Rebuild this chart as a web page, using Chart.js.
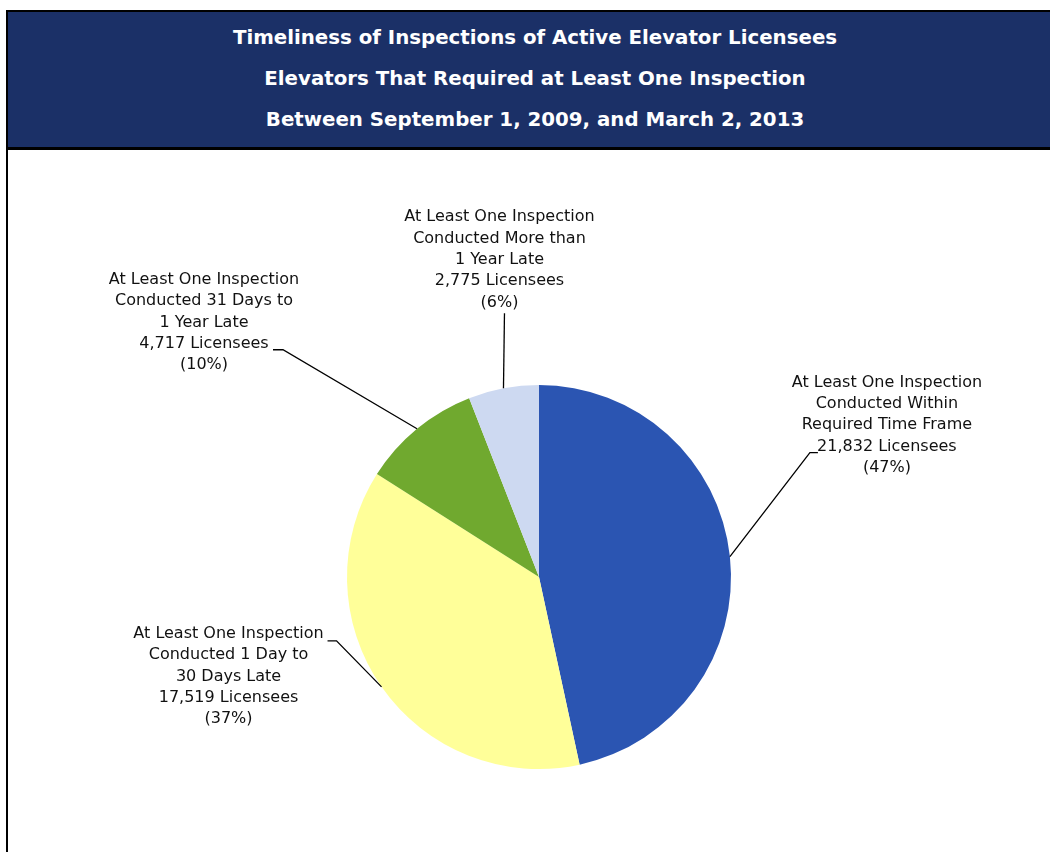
<!DOCTYPE html>
<html>
<head>
<meta charset="utf-8">
<script src="https://cdn.jsdelivr.net/npm/chart.js@4"></script>
<style>
    body { margin: 0; background: #fff; }
    #page { position: relative; width: 1050px; height: 852px; overflow: hidden; }
    #frame { position: absolute; left: 6px; top: 10px; width: 2px; height: 842px; background: #000; }
    #header {
        position: absolute; left: 6px; top: 10px; width: 1034px; height: 130px;
        border-top: 2px solid #000; border-left: 2px solid #000; border-bottom: 3px solid #000;
        background: #1b3067; color: #fff; text-align: center;
        font-family: "DejaVu Sans", sans-serif; font-weight: bold; font-size: 19.8px;
        line-height: 41px; padding-top: 5px; padding-left: 10px; box-sizing: content-box;
    }
    canvas { position: absolute; left: 0; top: 0; }
</style>
</head>
<body>
<div id="page">
    <canvas id="graficoPie" width="1050" height="852"></canvas>
    <div id="frame"></div>
    <div id="header">
        <div>Timeliness of Inspections of Active Elevator Licensees</div>
        <div>Elevators That Required at Least One Inspection</div>
        <div>Between September 1, 2009, and March 2, 2013</div>
    </div>
</div>
<script>
//DATA
const categories = [
    ['At Least One Inspection', 'Conducted Within', 'Required Time Frame'],
    ['At Least One Inspection', 'Conducted 1 Day to', '30 Days Late'],
    ['At Least One Inspection', 'Conducted 31 Days to', '1 Year Late'],
    ['At Least One Inspection', 'Conducted More than', '1 Year Late']
];
const licensees = [21832, 17519, 4717, 2775];
const sliceColors = ['#2b55b2', '#ffff99', '#70a92f', '#cdd9f1'];

// label placement, relative to the outer edge of each slice's middle
// elbow = where the leader bends, end = where it stops, text = centre of first line
const labelLayout = [
    { elbow: [80, -104], end: [88, -104], text: [157, -174] },
    { elbow: [-45, -46], end: [-54, -46], text: [-153, -53] },
    { elbow: [-134, -79], end: [-144, -79], text: [-213, -149] },
    { elbow: [1, -75], end: [1, -75], text: [-4, -171] }
];

//GENERAL FUNCTIONS
function totalOf(values) {
    return values.reduce((a, b) => a + b, 0);
}

function labelLines(i) {
    let total = totalOf(licensees);
    let pct = Math.round(licensees[i] / total * 100);
    return categories[i].concat([
        licensees[i].toLocaleString('en-US') + ' Licensees',
        '(' + pct + '%)'
    ]);
}

const sliceLabels = {
    id: 'sliceLabels',
    afterDraw(chart) {
        const ctx = chart.ctx;
        const meta = chart.getDatasetMeta(0);
        ctx.save();
        ctx.strokeStyle = '#000';
        ctx.lineWidth = 1.3;
        ctx.fillStyle = '#111';
        ctx.font = '16px "DejaVu Sans", sans-serif';
        ctx.textAlign = 'center';
        ctx.textBaseline = 'middle';
        meta.data.forEach((arc, i) => {
            const p = arc.getProps(['x', 'y', 'startAngle', 'endAngle', 'outerRadius'], true);
            const mid = (p.startAngle + p.endAngle) / 2;
            const ax = p.x + Math.cos(mid) * p.outerRadius;
            const ay = p.y + Math.sin(mid) * p.outerRadius;
            const lay = labelLayout[i];
            ctx.beginPath();
            ctx.moveTo(ax, ay);
            ctx.lineTo(ax + lay.elbow[0], ay + lay.elbow[1]);
            ctx.lineTo(ax + lay.end[0], ay + lay.end[1]);
            ctx.stroke();
            labelLines(i).forEach((line, j) => {
                ctx.fillText(line, ax + lay.text[0], ay + lay.text[1] + j * 21.3);
            });
        });
        ctx.restore();
    }
};

//PIE
const graphicPie = document.getElementById('graficoPie');

const graphicForPie = new Chart(graphicPie, {
    type: 'pie',
    data: {
        labels: categories.map(c => c.join(' ')),
        datasets: [{
            data: licensees,
            backgroundColor: sliceColors,
            borderWidth: 0
        }]
    },
    options: {
        responsive: false,
        animation: false,
        layout: { padding: { left: 347, right: 319, top: 385, bottom: 83 } },
        plugins: {
            legend: { display: false },
            tooltip: { enabled: false }
        }
    },
    plugins: [sliceLabels]
});
</script>
</body>
</html>
